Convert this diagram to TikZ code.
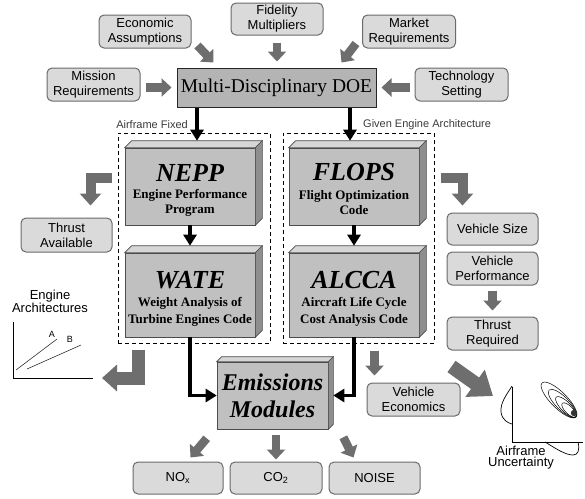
\documentclass[tikz,border=0pt]{standalone}
\usepackage{fontspec}
\setmainfont{Liberation Serif}
\newfontfamily\arialf{Liberation Sans}
\usetikzlibrary{arrows.meta,calc}
\definecolor{boxfill}{HTML}{DADADA}
\definecolor{boxedge}{HTML}{6A6A6A}
\definecolor{doefill}{HTML}{B4B4B4}
\definecolor{facefront}{HTML}{C0C0C0}
\definecolor{facetop}{HTML}{D6D6D6}
\definecolor{faceside}{HTML}{8E8E8E}
\definecolor{arrowgray}{HTML}{6E6E6E}
\definecolor{labelgray}{HTML}{3A3A3A}
\newcommand{\cubefaces}[2]{%
  \filldraw[fill=facetop, draw=black!70, line width=0.6pt] (#1.north west) -- ++(#2,-#2) -- ($(#1.north east)+(#2,-#2)$) -- (#1.north east) -- cycle;
  \filldraw[fill=faceside, draw=black!70, line width=0.6pt] (#1.north east) -- ++(#2,-#2) -- ($(#1.south east)+(#2,-#2)$) -- (#1.south east) -- cycle;
}
\tikzset{
  rbox/.style={draw=boxedge, fill=boxfill, line width=1pt, rounded corners=5pt, inner sep=0pt, align=center, font=\arialf\fontsize{13}{15}\selectfont},
  doebox/.style={draw=black!85, fill=doefill, line width=1pt, inner sep=0pt, font=\fontsize{19.5}{22}\selectfont},
  face/.style={draw=black!70, fill=facefront, line width=0.6pt, inner sep=0pt},
  ttl/.style={font=\bfseries\itshape\fontsize{26}{28}\selectfont, inner sep=0pt},
  subt/.style={font=\bfseries\fontsize{13}{15}\selectfont, align=center, inner sep=0pt},
  grp/.style={draw=black, line width=1pt, dash pattern=on 4pt off 3pt, inner sep=0pt},
  fat/.style={draw=arrowgray, line width=8.5pt, -{Triangle[width=18pt,length=10pt]}},
  fatL/.style={draw=arrowgray, line width=10pt, line join=miter, -{Triangle[width=21pt,length=12pt]}},
  fatLL/.style={draw=arrowgray, line width=13pt, line join=miter, -{Triangle[width=26pt,length=15pt]}},
  fatB/.style={draw=arrowgray, line width=14pt, -{Triangle[width=32pt,length=22pt]}},
  blk/.style={draw=black, line width=3.5pt, line join=miter, -{Triangle[width=13pt,length=11pt]}},
  grlbl/.style={font=\arialf\fontsize{11}{13}\selectfont, text=labelgray, inner sep=0pt},
  plotline/.style={draw=black, line width=0.7pt},
  gtxt/.style={font=\arialf\fontsize{13}{12}\selectfont, align=center, inner sep=0pt},
  smalltxt/.style={font=\arialf\fontsize{9}{10}\selectfont, inner sep=0pt},
}
\begin{document}
\begin{tikzpicture}[x=1pt,y=-1pt]
\useasboundingbox (0,0) rectangle (585,498);
% dashed groups
\node[grp, minimum width=152pt, minimum height=210pt] (leftgrp) at (194,238) {};
\node[grp, minimum width=151pt, minimum height=210pt] (rightgrp) at (358.5,238) {};
% top boxes
\node[rbox, minimum width=92pt, minimum height=33pt] (econ) at (145,31.5) {Economic\\Assumptions};
\node[rbox, minimum width=92pt, minimum height=32pt] (fid) at (277,19) {Fidelity\\Multipliers};
\node[rbox, minimum width=93pt, minimum height=33pt] (mkt) at (409,31.5) {Market\\Requirements};
\node[rbox, minimum width=93pt, minimum height=33pt] (mis) at (93.5,84.5) {Mission\\Requirements};
\node[rbox, minimum width=93pt, minimum height=33pt] (tech) at (461.5,84.5) {Technology\\Setting};
\node[doebox, minimum width=199pt, minimum height=39pt] (doe) at (276.5,87.5) {Multi-Disciplinary DOE};
% side boxes
\node[rbox, minimum width=91pt, minimum height=34pt] (thrav) at (66.5,235) {Thrust\\Available};
\node[rbox, minimum width=91pt, minimum height=32pt] (vsize) at (492.5,229) {Vehicle Size};
\node[rbox, minimum width=91pt, minimum height=33pt] (vperf) at (492.5,268.5) {Vehicle\\Performance};
\node[rbox, minimum width=91pt, minimum height=33pt] (treq) at (492.5,333.5) {Thrust\\Required};
\node[rbox, minimum width=93pt, minimum height=33pt] (vecon) at (413.5,399.5) {Vehicle\\Economics};
% bottom boxes
\node[rbox, minimum width=90pt, minimum height=32pt] (nox) at (178,478) {NO\textsubscript{x}};
\node[rbox, minimum width=92pt, minimum height=32pt] (co2) at (276,478) {CO\textsubscript{2}};
\node[rbox, minimum width=91pt, minimum height=32pt] (noise) at (374.5,478) {NOISE};
% 3D boxes
\node[face, minimum width=130pt, minimum height=77pt] (nepp) at (190,186.5) {};
\cubefaces{nepp}{7}
\node[ttl] (neppT) at ([shift={(0,-14)}]nepp.center) {NEPP};
\node[subt] (neppS) at ([shift={(0,16)}]nepp.center) {Engine Performance\\Program};
\node[face, minimum width=130pt, minimum height=84pt] (wate) at (190,295) {};
\cubefaces{wate}{7}
\node[ttl] (wateT) at ([shift={(0,-15)}]wate.center) {WATE};
\node[subt] (wateS) at ([shift={(0,16.5)}]wate.center) {Weight Analysis of\\[2pt]Turbine Engines Code};
\node[face, minimum width=130pt, minimum height=77pt] (flops) at (354,186.5) {};
\cubefaces{flops}{7}
\node[ttl] (flopsT) at ([shift={(0,-14)}]flops.center) {FLOPS};
\node[subt] (flopsS) at ([shift={(0,16)}]flops.center) {Flight Optimization\\Code};
\node[face, minimum width=130pt, minimum height=84pt] (alcca) at (354,295) {};
\cubefaces{alcca}{7}
\node[ttl] (alccaT) at ([shift={(0,-15)}]alcca.center) {ALCCA};
\node[subt] (alccaS) at ([shift={(0,16.5)}]alcca.center) {Aircraft Life Cycle\\[2pt]Cost Analysis Code};
\node[face, minimum width=111pt, minimum height=67pt, align=center, font=\bfseries\itshape\fontsize{24}{27}\selectfont] (emis) at (272.5,395.5) {Emissions\\Modules};
\cubefaces{emis}{5}
% labels
\node[grlbl, anchor=east] (afix) at (188,125) {Airframe Fixed};
\node[grlbl, anchor=west] (geng) at (363,125) {Given Engine Architecture};
% gray input arrows
\draw[fat] ([shift={(6,-3)}]econ.south east) -- ([shift={(37,-5)}]doe.north west);
\draw[fat] ([shift={(0,7)}]fid.south) -- ($(fid.south |- doe.north)+(0,-6)$);
\draw[fat] ([shift={(-6,-5)}]mkt.south west) -- ([shift={(-35,-5)}]doe.north east);
\draw[fat] ($(mis.east |- doe.west)+(5,0)$) -- ($(doe.west)+(-5,0)$);
\draw[fat] ($(tech.west |- doe.west)+(-5,0)$) -- ($(doe.east)+(5,0)$);
% black arrows
\coordinate (neppTop) at ($(nepp.north)+(7,-7)$);
\coordinate (flopsTop) at ($(flops.north)+(-4,-7)$);
\draw[blk] (doe.south -| neppTop) -- (neppTop);
\draw[blk] (doe.south -| flopsTop) -- (flopsTop);
\draw[blk] (nepp.south) -- ($(wate.north)+(0,-7)$);
\draw[blk] (flops.south) -- ($(alcca.north)+(0,-7)$);
\coordinate (emisE) at ($(emis.east)+(5,0)$);
\draw[blk] (wate.south) |- (emis.west);
\draw[blk] (alcca.south) |- (emisE);
% engine architectures graph
\node[gtxt] (engT) at (50,301) {Engine\\Architectures};
\coordinate (ey) at (13,322);
\coordinate (eo) at (13,378);
\coordinate (eax) at (93,378);
\draw[plotline] (ey) -- (eo) -- (eax);
\draw[black!80, line width=0.6pt] (16,370) -- (57,339);
\draw[black!80, line width=0.6pt] (27,369) -- (81,345);
\node[smalltxt] (lblA) at (52,334) {A};
\node[smalltxt] (lblB) at (70,339) {B};
% airframe uncertainty graph
\coordinate (uy) at (512,387);
\coordinate (uo) at (512,442);
\coordinate (ux) at (583,442);
\draw[plotline] (uy) -- (uo) -- (ux);
\draw[plotline] (512,386) .. controls (507,394) and (500,403) .. (501,412) .. controls (502,420) and (508,423) .. (512,424);
\draw[plotline] (545,442) .. controls (555,448) and (565,455) .. (573,455) .. controls (578,455) and (580,450) .. (578,442);
\draw[line width=0.5pt, rotate around={-45:(559,400)}] (559,400) ellipse [x radius=24, y radius=8];
\draw[line width=0.5pt, rotate around={-45:(562.5,403.5)}] (562.5,403.5) ellipse [x radius=19, y radius=6.5];
\draw[line width=0.5pt, rotate around={-45:(566,407)}] (566,407) ellipse [x radius=14, y radius=5];
\draw[line width=0.5pt, rotate around={-45:(569,410)}] (569,410) ellipse [x radius=9.5, y radius=3.8];
\fill[black!80] (574,413) circle [radius=3.2];
\node[gtxt, font=\arialf\fontsize{13}{11.5}\selectfont] (uncT) at (521,457.5) {Airframe\\Uncertainty};
% gray output arrows
\draw[fatL] ([shift={(-6,45)}]leftgrp.north west) -| ([shift={(70,-12)}]thrav.north west);
\draw[fatL] ([shift={(6,45)}]rightgrp.north east) -| ([shift={(16,-7)}]vsize.north west);
\draw[fatLL] ([shift={(20.5,6)}]leftgrp.south west) |- ($(eax)+(9,0)$);
\draw[fat] ([shift={(0,5)}]vperf.south) -- ([shift={(0,-6)}]treq.north);
\draw[fat] ([shift={(92,7)}]rightgrp.south west) -- ([shift={(8,-7)}]vecon.north west);
\draw[fatB] ([shift={(5,16)}]treq.south west) -- ($(uy)+(-19,9)$);
\draw[fat] ([shift={(-10,9)}]emis.south west) -- ([shift={(-33,-4)}]nox.north east);
\draw[fat] ($(emis.south -| co2.north)+(0,6)$) -- ([shift={(0,-2)}]co2.north);
\draw[fat] ([shift={(15,8)}]emis.south east) -- ([shift={(25,-4)}]noise.north west);
\end{tikzpicture}
\end{document}
